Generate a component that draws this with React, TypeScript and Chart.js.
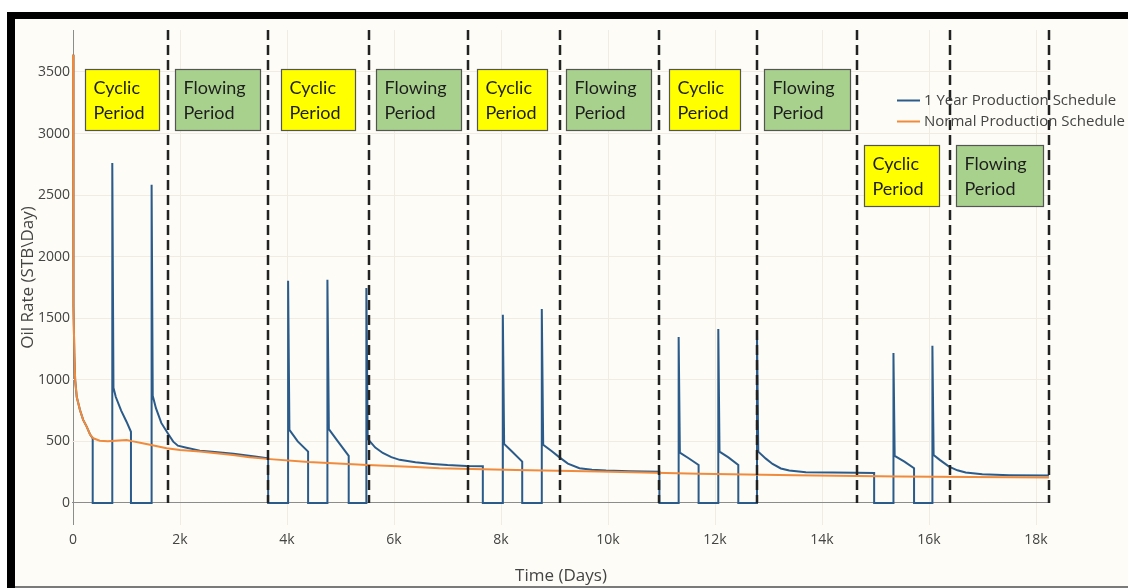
import React, { useEffect, useRef } from "react";
import { Chart, registerables } from "chart.js";

Chart.register(...registerables);

// ---- series ----
const seriesNames = ["1 Year Production Schedule", "Normal Production Schedule"];

// 1 Year Production Schedule: days / oil rate (STB/day)
const scheduleDays = [
  0, 3, 8, 15, 25, 40, 70, 130, 190, 255, 320, 368, 368,
  734, 734, 756, 800, 900, 1000, 1083, 1083,
  1469, 1469, 1490, 1550, 1650, 1780, 1873, 1960, 2122, 2370, 2600, 3000, 3400, 3647, 3647,
  4020, 4020, 4045, 4200, 4394, 4394,
  4755, 4755, 4782, 4950, 5153, 5153,
  5483, 5483, 5508, 5650, 5790, 5950, 6105, 6400, 6720, 7000, 7350, 7660, 7660,
  8034, 8034, 8058, 8200, 8396, 8396,
  8762, 8762, 8788, 8950, 9093, 9250, 9466, 9700, 9964, 10400, 10960, 10960,
  11320, 11320, 11343, 11500, 11693, 11693,
  12061, 12061, 12084, 12250, 12435, 12435,
  12784, 12784, 12808, 12950, 13075, 13230, 13387, 13698, 14200, 14632, 14974, 14974,
  15335, 15335, 15358, 15540, 15720, 15720,
  16063, 16063, 16086, 16200, 16374, 16530, 16685, 16996, 17500, 18241,
];
const scheduleRate = [
  3640, 3000, 2200, 1600, 1200, 1000, 860, 755, 675, 620, 555, 525, 0,
  0, 2760, 935, 860, 750, 660, 578, 0,
  0, 2585, 870, 770, 650, 560, 498, 465, 449, 425, 415, 400, 378, 362, 0,
  0, 1805, 593, 500, 417, 0,
  0, 1813, 600, 500, 382, 0,
  0, 1745, 520, 450, 406, 372, 350, 330, 317, 308, 301, 298, 0,
  0, 1528, 480, 420, 336, 0,
  0, 1575, 472, 420, 370, 320, 282, 270, 263, 258, 253, 0,
  0, 1347, 409, 365, 309, 0,
  0, 1412, 417, 370, 309, 0,
  0, 1390, 417, 360, 317, 280, 263, 250, 247, 246, 244, 0,
  0, 1217, 382, 335, 282, 0,
  0, 1276, 390, 350, 295, 265, 247, 233, 226, 222,
];

// Normal Production Schedule: days / oil rate (STB/day)
const normalDays = [
  0, 3, 8, 15, 25, 40, 70, 130, 190, 255, 320, 380, 500, 650, 850, 1000, 1100,
  1300, 1440, 1750, 2000, 2370, 2990, 3300, 3620, 4400, 5500, 6400, 6850, 8280,
  9840, 11700, 13500, 15440, 16800, 18241,
];
const normalRate = [
  3640, 3000, 2200, 1600, 1200, 1000, 860, 755, 675, 620, 555, 525, 506, 502, 508, 512, 502,
  485, 472, 445, 430, 417, 390, 372, 358, 333, 309, 292, 282, 268,
  255, 238, 226, 214, 210, 207,
];

// ---- axes ----
const xTickValues = [0, 2000, 4000, 6000, 8000, 10000, 12000, 14000, 16000, 18000];
const yTickValues = [0, 500, 1000, 1500, 2000, 2500, 3000, 3500];
const xRange = [-19, 18261];
const yRange = [-179, 3841];

// ---- period markers (days) ----
const periodBoundaries = [1780, 3645, 5527, 7381, 9105, 10960, 12784, 14651, 16387, 18241];

// Period label boxes, in data units (days, STB/day)
const boxKinds = ["cyclic", "flowing", "cyclic", "flowing", "cyclic", "flowing", "cyclic", "flowing", "cyclic", "flowing"];
const boxLines: Record<string, string[]> = {
  cyclic: ["Cyclic", "Period"],
  flowing: ["Flowing", "Period"],
};
const boxFrom = [224, 1904, 3883, 5656, 7560, 9221, 11144, 12917, 14784, 16501];
const boxTo = [1605, 3504, 5264, 7261, 8867, 10808, 12469, 14522, 16184, 18125];
const boxTop = [3521, 3521, 3521, 3521, 3521, 3521, 3521, 3521, 2907, 2907];
const boxBottom = [3029, 3029, 3029, 3029, 3029, 3029, 3029, 3029, 2412, 2412];

const BLUE = "#2b5b8a";
const ORANGE = "#f08a3c";
const TEXT = "#444444";
const GRID = "#f0ece3";
const ZERO = "#8c8c8c";
const FILL: Record<string, string> = { cyclic: "#ffff00", flowing: "#a9d18e" };

const overlayPlugin = {
  id: "periodOverlay",
  afterDatasetsDraw(chart: any) {
    const { ctx, scales } = chart;
    const xs = scales.x;
    const ys = scales.y;
    ctx.save();

    // dashed period boundaries
    ctx.strokeStyle = "#222222";
    ctx.lineWidth = 2.5;
    ctx.setLineDash([10, 5]);
    for (const d of periodBoundaries) {
      const px = Math.round(xs.getPixelForValue(d));
      ctx.beginPath();
      ctx.moveTo(px, ys.getPixelForValue(yRange[1]));
      ctx.lineTo(px, ys.getPixelForValue(0));
      ctx.stroke();
    }
    ctx.setLineDash([]);

    // period label boxes
    boxKinds.forEach((kind, i) => {
      const x0 = Math.round(xs.getPixelForValue(boxFrom[i])) + 0.5;
      const x1 = Math.round(xs.getPixelForValue(boxTo[i])) + 0.5;
      const y0 = Math.round(ys.getPixelForValue(boxTop[i])) + 0.5;
      const y1 = Math.round(ys.getPixelForValue(boxBottom[i])) + 0.5;
      ctx.fillStyle = FILL[kind];
      ctx.fillRect(x0, y0, x1 - x0, y1 - y0);
      ctx.strokeStyle = "#555555";
      ctx.lineWidth = 1.2;
      ctx.strokeRect(x0, y0, x1 - x0, y1 - y0);
      ctx.fillStyle = "#1e1e1e";
      ctx.font = "18px Lato";
      ctx.textAlign = "left";
      ctx.textBaseline = "middle";
      const cy = (y0 + y1) / 2;
      const lines = boxLines[kind];
      ctx.fillText(lines[0], x0 + 8, cy - 12);
      ctx.fillText(lines[1], x0 + 8, cy + 13);
    });

    ctx.restore();
  },
  afterDraw(chart: any) {
    const { ctx } = chart;
    ctx.save();
    const ds = chart.data.datasets;
    const rows = [100.5, 121.5];
    ds.forEach((d: any, i: number) => {
      const y = rows[i];
      ctx.strokeStyle = d.borderColor;
      ctx.lineWidth = 2;
      ctx.beginPath();
      ctx.moveTo(897, y);
      ctx.lineTo(920, y);
      ctx.stroke();
      ctx.fillStyle = TEXT;
      ctx.font = "15px 'Open Sans'";
      ctx.textAlign = "left";
      ctx.textBaseline = "middle";
      ctx.fillText(d.label, 924, y);
    });
    ctx.restore();
  },
};

function toPoints(xs: number[], ys: number[]) {
  return xs.map((x, i) => ({ x, y: ys[i] }));
}

export default function App() {
  const canvasRef = useRef<HTMLCanvasElement | null>(null);

  useEffect(() => {
    const canvas = canvasRef.current;
    if (!canvas) return;
    const tickFont = { family: "'Open Sans'", size: 14 };
    const titleFont = { family: "'Open Sans'", size: 17 };
    const gridColor = (c: any) => (c.tick && c.tick.value === 0 ? ZERO : GRID);

    const chart = new Chart(canvas, {
      type: "line",
      data: {
        datasets: [
          {
            label: seriesNames[0],
            data: toPoints(scheduleDays, scheduleRate),
            borderColor: BLUE,
            backgroundColor: BLUE,
            borderWidth: 2,
            pointRadius: 0,
            tension: 0,
            order: 1,
          },
          {
            label: seriesNames[1],
            data: toPoints(normalDays, normalRate),
            borderColor: ORANGE,
            backgroundColor: ORANGE,
            borderWidth: 2,
            pointRadius: 0,
            tension: 0,
            order: 0,
          },
        ],
      },
      options: {
        responsive: false,
        animation: false,
        parsing: false as any,
        layout: { padding: { top: 30, right: 78, left: 0, bottom: 0 } },
        plugins: { legend: { display: false }, tooltip: { enabled: false } },
        scales: {
          x: {
            type: "linear",
            min: xRange[0],
            max: xRange[1],
            afterBuildTicks: (s: any) => {
              s.ticks = xTickValues.map((value) => ({ value }));
            },
            afterFit: (s: any) => {
              s.height = 63;
            },
            grid: { color: gridColor, drawTicks: false, lineWidth: 1 },
            border: { display: false },
            ticks: {
              font: tickFont,
              color: TEXT,
              padding: 7,
              maxRotation: 0,
              autoSkip: false,
              callback: (v: any) => (Number(v) === 0 ? "0" : Number(v) / 1000 + "k"),
            },
            title: {
              display: true,
              text: "Time (Days)",
              font: titleFont,
              color: TEXT,
              padding: { top: 0, bottom: 2 },
            },
          },
          y: {
            type: "linear",
            min: yRange[0],
            max: yRange[1],
            afterBuildTicks: (s: any) => {
              s.ticks = yTickValues.map((value) => ({ value }));
            },
            afterFit: (s: any) => {
              s.width = 72;
            },
            grid: { color: gridColor, drawTicks: false, lineWidth: 1 },
            border: { display: false },
            ticks: {
              font: tickFont,
              color: TEXT,
              padding: 2,
              autoSkip: false,
              callback: (v: any) => String(v),
            },
            title: {
              display: true,
              text: "Oil Rate (STB\\Day)",
              font: titleFont,
              color: TEXT,
              padding: { top: 18, bottom: 0 },
            },
          },
        },
      },
      plugins: [overlayPlugin],
    });
    return () => chart.destroy();
  }, []);

  return (
    <div style={{ position: "absolute", left: 0, top: 0, width: 1128, height: 588, background: "#ffffff", overflow: "hidden" }}>
      <div style={{ position: "absolute", left: 15, top: 19, width: 1113, height: 567, background: "#fdfcf6" }} />
      <div style={{ position: "absolute", left: 7, top: 12, width: 1121, height: 7, background: "#000000" }} />
      <div style={{ position: "absolute", left: 7, top: 12, width: 8, height: 576, background: "#000000" }} />
      <div style={{ position: "absolute", left: 15, top: 586, width: 1113, height: 2, background: "#7a7a7a" }} />
      <canvas ref={canvasRef} width={1128} height={588} style={{ position: "absolute", left: 0, top: 0, width: 1128, height: 588 }} />
    </div>
  );
}
